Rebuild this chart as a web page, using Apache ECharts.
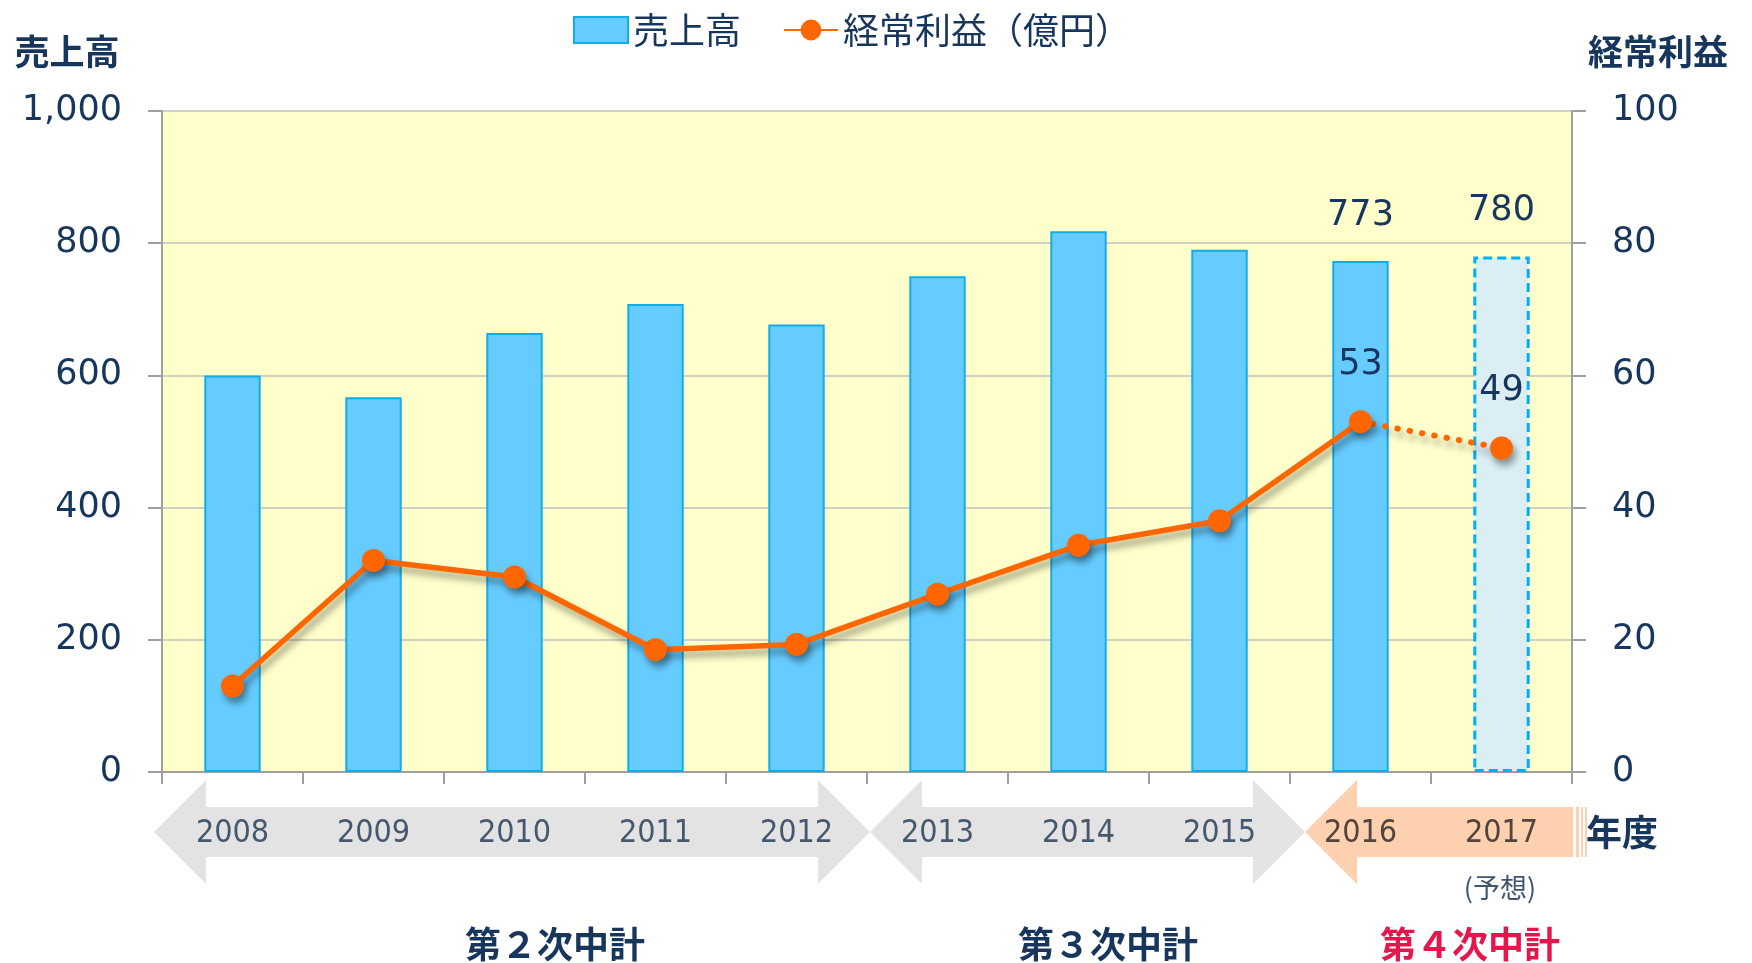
<!DOCTYPE html>
<html>
<head>
<meta charset="utf-8">
<script src="https://cdn.jsdelivr.net/npm/echarts@6/dist/echarts.min.js"></script>
<style>
  html, body { margin: 0; padding: 0; background: #fff; }
  #main { width: 1752px; height: 963px; }
</style>
</head>
<body>
<div id="main"></div>
<script>
// #region Data
const years = ['2008', '2009', '2010', '2011', '2012', '2013', '2014', '2015', '2016', '2017'];
const sales = [600, 567, 664, 708, 677, 750, 818, 790, 773, 780];
const profit = [13, 32, 29.5, 18.5, 19.3, 26.9, 34.3, 38, 53, null];
const profitForecast = [null, null, null, null, null, null, null, null, 53, 49];
const labeledIdx = [8, 9];
const forecastIdx = 9;
const salesTicks = [0, 200, 400, 600, 800, 1000];
const profitTicks = [0, 20, 40, 60, 80, 100];
const plans = [
	{ text: '第２次中計', color: '#17365D' },
	{ text: '第３次中計', color: '#17365D' },
	{ text: '第４次中計', color: '#E6154B' }
];
// #endregion

const NAVY = '#17365D';
const JP = '"Noto Sans CJK JP", sans-serif';
const NUM = '"DejaVu Sans", Verdana, sans-serif';
const YEARFONT = '"DejaVu Sans Condensed", "Liberation Sans Narrow", "Liberation Sans", sans-serif';

const chart = echarts.init(document.getElementById('main'), null, { renderer: 'canvas' });

const barData = sales.map((v, i) => {
	const item = { value: v };
	if (i === forecastIdx) {
		item.itemStyle = { color: '#DAEEF3', borderColor: '#00B0F0', borderType: [9, 5], borderWidth: 3 };
	}
	if (labeledIdx.includes(i)) {
		item.label = { show: true };
	}
	return item;
});

const profitData = profit.map((v, i) => labeledIdx.includes(i) && v != null ? { value: v, label: { show: true } } : v);
const forecastData = profitForecast.map((v, i) => {
	if (i === forecastIdx) return { value: v, symbol: 'circle', label: { show: true } };
	return v == null ? v : { value: v, symbol: 'none' };
});

const shadow = { shadowColor: 'rgba(0,0,0,0.38)', shadowBlur: 7, shadowOffsetX: 3, shadowOffsetY: 6 };

// arrows below the axis (decoration)
const cy = 832, hh = 52, bh = 25, hl = 52;
function doubleArrow(x1, x2) {
	return [[x1, cy], [x1 + hl, cy - hh], [x1 + hl, cy - bh], [x2 - hl, cy - bh], [x2 - hl, cy - hh], [x2, cy],
		[x2 - hl, cy + hh], [x2 - hl, cy + bh], [x1 + hl, cy + bh], [x1 + hl, cy + hh]];
}
function leftArrow(x1, x2) {
	return [[x1, cy], [x1 + hl, cy - hh], [x1 + hl, cy - bh], [x2, cy - bh], [x2, cy + bh], [x1 + hl, cy + bh], [x1 + hl, cy + hh]];
}

const graphics = [
	{ type: 'polygon', z: -10, shape: { points: doubleArrow(154, 870) }, style: { fill: '#E3E3E3' } },
	{ type: 'polygon', z: -10, shape: { points: doubleArrow(870, 1305) }, style: { fill: '#E3E3E3' } },
	{ type: 'polygon', z: -10, shape: { points: leftArrow(1305, 1573) }, style: { fill: '#FDD0B0' } },
	{ type: 'rect', z: -10, shape: { x: 1576, y: cy - bh, width: 3, height: bh * 2 }, style: { fill: '#FDD0B0' } },
	{ type: 'rect', z: -10, shape: { x: 1581, y: cy - bh, width: 2, height: bh * 2 }, style: { fill: '#FDD0B0' } },
	{ type: 'rect', z: -10, shape: { x: 1585, y: cy - bh, width: 2, height: bh * 2 }, style: { fill: '#FDD0B0' } },
	{ type: 'text', x: 67, y: 52, style: { text: '売上高', font: 'bold 35px ' + JP, fill: NAVY, align: 'center', verticalAlign: 'middle' } },
	{ type: 'text', x: 1658, y: 52, style: { text: '経常利益', font: 'bold 35px ' + JP, fill: NAVY, align: 'center', verticalAlign: 'middle' } },
	{ type: 'text', x: 1622, y: 832, style: { text: '年度', font: 'bold 36px ' + JP, fill: NAVY, align: 'center', verticalAlign: 'middle' } },
	{ type: 'text', x: 1500, y: 888, style: { text: '(予想)', font: '27px ' + JP, fill: '#3F5570', align: 'center', verticalAlign: 'middle' } },
	{ type: 'text', x: 555, y: 944, style: { text: plans[0].text, font: 'bold 36px ' + JP, fill: plans[0].color, align: 'center', verticalAlign: 'middle' } },
	{ type: 'text', x: 1108, y: 944, style: { text: plans[1].text, font: 'bold 36px ' + JP, fill: plans[1].color, align: 'center', verticalAlign: 'middle' } },
	{ type: 'text', x: 1470, y: 944, style: { text: plans[2].text, font: 'bold 36px ' + JP, fill: plans[2].color, align: 'center', verticalAlign: 'middle' } }
];

const option = {
	animation: false,
	legend: {
		left: 568,
		top: 7,
		itemWidth: 54,
		itemHeight: 26,
		itemGap: 42,
		textStyle: { fontFamily: JP, fontSize: 36, color: NAVY },
		data: [{ name: '売上高', icon: 'rect' }, { name: '経常利益（億円）' }]
	},
	grid: {
		left: 162, right: 180, top: 111, bottom: 191,
		show: true, backgroundColor: '#FFFFCC', borderWidth: 0
	},
	xAxis: {
		type: 'category',
		data: years,
		axisLine: { lineStyle: { color: '#A0A0A0', width: 2 } },
		axisTick: { show: true, length: 12, lineStyle: { color: '#A0A0A0', width: 2 } },
		axisLabel: {
			margin: 46,
			fontFamily: YEARFONT,
			fontSize: 32,
			color: (val, idx) => (idx >= 8 ? '#54433A' : '#46586E')
		}
	},
	yAxis: [
		{
			type: 'value', min: salesTicks[0], max: salesTicks.at(-1), interval: 200,
			axisLine: { show: true, lineStyle: { color: '#A0A0A0', width: 2 } },
			axisTick: { show: true, length: 14, lineStyle: { color: '#A0A0A0', width: 2 } },
			axisLabel: { margin: 40, fontFamily: NUM, fontSize: 35, color: NAVY, formatter: v => v.toLocaleString('en-US') },
			splitLine: { lineStyle: { color: '#C0C0C0', width: 1.5 } }
		},
		{
			type: 'value', min: profitTicks[0], max: profitTicks.at(-1), interval: 20,
			axisLine: { show: true, lineStyle: { color: '#A0A0A0', width: 2 } },
			axisTick: { show: true, length: 14, lineStyle: { color: '#A0A0A0', width: 2 } },
			axisLabel: { margin: 40, fontFamily: NUM, fontSize: 35, color: NAVY },
			splitLine: { show: false }
		}
	],
	series: [
		{
			name: '売上高',
			type: 'bar',
			barWidth: '40%',
			data: barData,
			itemStyle: { color: '#66CCFF', borderColor: '#12ACE6', borderWidth: 2 },
			label: { show: false, position: 'top', distance: 28, fontFamily: NUM, fontSize: 35, color: NAVY }
		},
		{
			name: '経常利益（億円）',
			type: 'line',
			yAxisIndex: 1,
			data: profitData,
			symbol: 'circle',
			symbolSize: 23,
			z: 5,
			lineStyle: { color: '#FF6600', width: 5.5, ...shadow },
			itemStyle: { color: '#FF6600', ...shadow },
			label: { show: false, position: 'top', distance: 28, fontFamily: NUM, fontSize: 35, color: NAVY }
		},
		{
			name: '予想',
			type: 'line',
			yAxisIndex: 1,
			data: forecastData,
			symbol: 'circle',
			symbolSize: 23,
			z: 4,
			lineStyle: { color: '#FF6600', width: 6, type: [0.5, 12], cap: 'round', ...shadow },
			itemStyle: { color: '#FF6600', ...shadow },
			label: { show: false, position: 'top', distance: 28, fontFamily: NUM, fontSize: 35, color: NAVY }
		}
	],
	graphic: graphics
};

chart.setOption(option);
</script>
</body>
</html>
